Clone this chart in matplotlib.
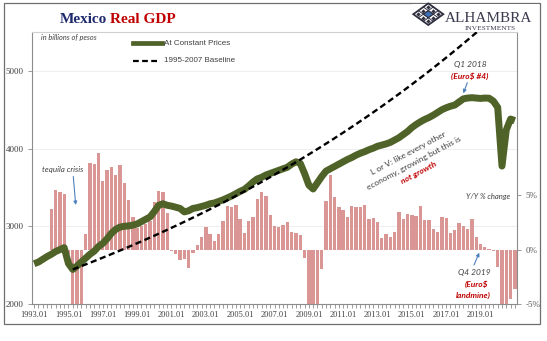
import numpy as np
import matplotlib
matplotlib.use("Agg")
import matplotlib.pyplot as plt
from matplotlib.lines import Line2D
from matplotlib.patches import Polygon, Rectangle
from matplotlib.transforms import blended_transform_factory

# ---------------- data ----------------
start_year = 1993
# Real GDP, billions of pesos (1993Q1 .. 2021Q1)
gdp = [
    2518, 2540, 2575, 2610, 2640, 2675, 2700, 2725, 2520, 2445,
    2490, 2540, 2590, 2640, 2680, 2740, 2780, 2840, 2910, 2960,
    2990, 3000, 3005, 3015, 3030, 3060, 3090, 3120, 3190, 3270,
    3290, 3270, 3260, 3245, 3230, 3185, 3200, 3230, 3240, 3255,
    3270, 3290, 3300, 3320, 3340, 3365, 3390, 3420, 3450, 3475,
    3520, 3570, 3610, 3630, 3660, 3680, 3700, 3720, 3740, 3760,
    3800, 3830, 3810, 3680, 3530, 3480, 3560, 3640, 3710, 3740,
    3770, 3800, 3830, 3860, 3885, 3915, 3940, 3960, 3985, 4005,
    4030, 4045, 4060, 4080, 4110, 4140, 4180, 4220, 4270, 4310,
    4345, 4375, 4400, 4430, 4465, 4500, 4525, 4545, 4560, 4600,
    4640, 4650, 4655, 4650, 4645, 4650, 4648, 4610, 4530, 3775,
    4240, 4380, 4360,
]
# Y/Y % change
nan = float("nan")
yoy = [
    nan, nan, nan, nan, 3.7, 5.5, 5.3, 5.1, -0.4, -9.2,
    -8.0, -7.0, 1.4, 8.0, 7.85, 8.9, 6.3, 7.3, 7.55, 6.9,
    7.8, 6.1, 4.6, 3.0, 2.0, 2.2, 2.35, 2.6, 4.4, 5.35,
    5.3, 3.4, -0.1, -0.4, -1.0, -0.9, -1.65, -0.3, 0.45, 1.2,
    2.05, 1.45, 0.76, 1.45, 2.65, 4.0, 3.9, 4.1, 2.85, 1.5,
    2.6, 3.0, 4.65, 5.3, 4.9, 3.2, 2.2, 2.05, 2.3, 2.5,
    1.6, 1.5, 1.3, -0.77, -7.3, -8.0, -5.3, -1.75, 4.5, 6.85,
    4.8, 3.9, 3.65, 3.0, 4.0, 3.95, 3.9, 4.1, 2.8, 2.95,
    2.5, 1.05, 1.4, 1.15, 1.6, 3.5, 2.85, 3.3, 3.2, 3.1,
    4.0, 2.7, 2.7, 1.9, 1.65, 3.0, 2.95, 1.5, 1.8, 2.4,
    2.2, 1.9, 2.8, 1.15, 0.5, 0.25, 0.1, -0.1, -1.6, -18.7,
    -8.6, -4.5, -3.6,
]
quarters = [f"{start_year + k // 4}Q{k % 4 + 1}" for k in range(len(gdp))]
label_years = list(range(1993, 2020, 2))
gdp_ticks = [2000, 3000, 4000, 5000]
gdp_grid = [3000, 4000, 5000]
yoy_ticks = [-5, 0, 5]
yoy_tick_labels = ["-5%", "0%", "5%"]
baseline_from, baseline_to = "1995Q2", "2007Q4"

# ---------------- style ----------------
W, H = 547, 341
GREEN = "#4F6228"
BAR = "#D99694"
NAVY = "#1F2A6E"
RED = "#C00000"
ARROW = "#4F81BD"
TXT = "#404040"
AXC = "#8C8C8C"
SERIF = ["Liberation Serif", "DejaVu Serif"]
SANS = ["Lato", "DejaVu Sans"]
plt.rcParams["font.family"] = SERIF

fig = plt.figure(figsize=(W / 100, H / 100), dpi=100)
fig.patch.set_facecolor("white")

L, R, T, B = 32, 517, 32, 304
ax = fig.add_axes([L / W, 1 - B / H, (R - L) / W, (B - T) / H])
ax2 = ax.twinx()
ax.set_zorder(ax2.get_zorder() + 1)
ax.patch.set_visible(False)

n = len(gdp)
x = np.arange(n)

# bars (right scale)
ax2.bar(x, yoy, width=0.78, color=BAR, linewidth=0, zorder=2)
ax2.set_ylim(-5, 20)

# faint gridlines behind bars in GDP units
tr = blended_transform_factory(ax2.transAxes, ax.transData)
for g in gdp_grid:
    ax2.add_line(Line2D([0, 1], [g, g], transform=tr, color="#EBEBEB", lw=0.6, zorder=0))

# GDP line + baseline (left scale)
ax.plot(x, gdp, color=GREEN, lw=5.0, solid_joinstyle="round", solid_capstyle="butt", zorder=3)
i0, i1 = quarters.index(baseline_from), quarters.index(baseline_to)
growth = (gdp[i1] / gdp[i0]) ** (1.0 / (i1 - i0))
xb = x[i0:]
base = gdp[i0] * growth ** (xb - i0)
ax.plot(xb, base, color="black", lw=1.7, dashes=(2.6, 1.5), zorder=4)

ax.set_xlim(-0.5, n - 0.5)
ax.set_ylim(2000, 5500)

# x ticks
lab_pos = [quarters.index(f"{y}Q1") for y in label_years]
ax.set_xticks(lab_pos)
ax.set_xticklabels([f"{y}.01" for y in label_years])
ax.set_xticks(x, minor=True)
ax.tick_params(axis="x", which="both", direction="out", length=3, width=0.6, color=AXC,
               labelsize=6, labelcolor=TXT, pad=2)
ax.set_yticks(gdp_ticks)
ax.set_yticklabels([str(v) for v in gdp_ticks])
ax.tick_params(axis="y", direction="out", length=3, width=0.6, color=AXC,
               labelsize=6.5, labelcolor=TXT, pad=3)
ax2.set_yticks(yoy_ticks)
ax2.set_yticklabels(yoy_tick_labels)
ax2.tick_params(axis="y", direction="out", length=3, width=0.6, color=AXC,
                labelsize=6.5, labelcolor="#595959", pad=3)

for a in (ax, ax2):
    for s in a.spines.values():
        s.set_color(AXC)
        s.set_linewidth(0.8)
ax.spines["right"].set_visible(False)
ax2.spines["left"].set_visible(False)
ax2.spines["bottom"].set_visible(False)
ax2.spines["top"].set_visible(False)
ax.spines["top"].set_color("#D0D0D0")

# ---------------- overlay in pixel coords ----------------
ov = fig.add_axes([0, 0, 1, 1])
ov.set_xlim(0, W)
ov.set_ylim(H, 0)
ov.axis("off")
ov.patch.set_visible(False)

# outer frame
ov.add_patch(Rectangle((4, 3), 536, 321, fill=False, edgecolor="#6E6E6E", lw=0.9))
# logo white box
ov.add_patch(Rectangle((412, 4), 127, 27, facecolor="white", edgecolor="none"))

# title
ov.text(107.5, 23.3, "Mexico", color=NAVY, fontsize=11, fontweight="bold",
        family=SERIF, ha="right", va="baseline")
ov.text(110, 23.3, "Real GDP", color=RED, fontsize=11, fontweight="bold",
        family=SERIF, ha="left", va="baseline")

ov.text(40.7, 37.5, "in billions of pesos", color=TXT, fontsize=5.3, style="italic",
        family=SANS, ha="left", va="center")

# legend
ov.add_line(Line2D([133.3, 162.3], [43.3, 43.3], color=GREEN, lw=3.4))
ov.add_line(Line2D([133.3, 158.3], [60.7, 60.7], color="black", lw=1.6, dashes=(2.6, 1.5)))
ov.text(163.5, 43.3, "At Constant Prices", color=TXT, fontsize=5.8,
        family=["Liberation Sans", "DejaVu Sans"], ha="left", va="center")
ov.text(163.5, 60.7, "1995-2007 Baseline", color=TXT, fontsize=5.8,
        family=["Liberation Sans", "DejaVu Sans"], ha="left", va="center")

# logo
cx, cy, a, b = 428.3, 14.2, 15.0, 10.8
top = np.array([cx, cy - b]); right = np.array([cx + a, cy])
left = np.array([cx - a, cy]); bottom = np.array([cx, cy + b])
def P(u, v):
    return top + u * (right - top) + v * (left - top)
ov.add_patch(Polygon([P(1/3, 1/3), P(2/3, 1/3), P(2/3, 2/3), P(1/3, 2/3)],
                     closed=True, facecolor="#3D6FB6", edgecolor="#2E2E3E", lw=0.6))
ov.add_patch(Polygon([top, right, bottom, left], closed=True, fill=False,
                     edgecolor="#2E2E3E", lw=1.3))
for t in (1/3, 2/3):
    ov.add_line(Line2D(*zip(P(t, 0), P(t, 1)), color="#2E2E3E", lw=0.7))
    ov.add_line(Line2D(*zip(P(0, t), P(1, t)), color="#2E2E3E", lw=0.7))
for u in (1/6, 1/2, 5/6):
    for v in (1/6, 1/2, 5/6):
        if (u, v) != (1/2, 1/2):
            px, py = P(u, v)
            ov.plot(px, py, marker="D", ms=2.2, color="#2E2E3E", mew=0)
ov.text(445, 21.7, "ALHAMBRA", color="#3B3B4F", fontsize=11, family=SERIF,
        ha="left", va="baseline")
ov.text(490, 28, "INVESTMENTS", color="#3B3B4F", fontsize=5.3, family=SERIF,
        ha="center", va="center")

# annotations
ov.text(470, 65, "Q1 2018", color=TXT, fontsize=6, style="italic", family=SANS,
        ha="center", va="center")
ov.text(470, 76, "(Euro$ #4)", color=RED, fontsize=6, style="italic", fontweight="bold",
        family=SANS, ha="center", va="center")
arrow = dict(arrowstyle="-|>", color=ARROW, lw=0.8, mutation_scale=5, shrinkA=0, shrinkB=0)
ov.annotate("", xy=(463.3, 93.3), xytext=(467.3, 82.7), arrowprops=arrow)

ov.text(63, 169.3, "tequila crisis", color=TXT, fontsize=5.8, style="italic", family=SANS,
        ha="center", va="center")
ov.annotate("", xy=(75.7, 205), xytext=(73.3, 176.5), arrowprops=arrow)

ov.text(510, 196, "Y/Y % change", color=TXT, fontsize=5.5, style="italic", family=SANS,
        ha="right", va="center")

ov.text(474, 272, "Q4 2019", color=TXT, fontsize=6, style="italic", family=SANS,
        ha="center", va="center")
ov.text(476.7, 284.5, "(Euro$", color=RED, fontsize=6, style="italic", fontweight="bold",
        family=SANS, ha="center", va="center")
ov.text(473, 295.7, "landmine)", color=RED, fontsize=6, style="italic", fontweight="bold",
        family=SANS, ha="center", va="center")
ov.annotate("", xy=(479.3, 252.7), xytext=(474, 265), arrowprops=arrow)

rot = 28
ov.text(408.7, 153.5, "L or V: like every other", color=TXT, fontsize=6, family=SANS,
        rotation=rot, rotation_mode="anchor", ha="center", va="center")
ov.text(413.8, 163.0, "economy, growing but this is", color=TXT, fontsize=6, family=SANS,
        rotation=rot, rotation_mode="anchor", ha="center", va="center")
ov.text(419.0, 172.5, "not growth", color=RED, fontsize=6, fontweight="bold", style="italic",
        family=SANS, rotation=rot, rotation_mode="anchor", ha="center", va="center")

fig.savefig("out.png", dpi=100, facecolor="white")
